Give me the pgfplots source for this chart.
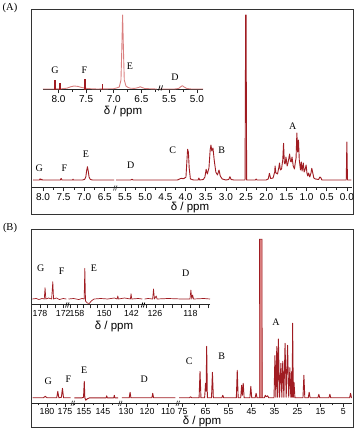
\documentclass[border=0pt]{standalone}
\usepackage{pgfplots}
\pgfplotsset{compat=1.18}
\usepackage{fontspec}
\setmainfont{Liberation Serif}
\setsansfont{Liberation Sans}
\definecolor{specred}{RGB}{160,28,34}
\definecolor{speclight}{RGB}{218,128,128}
\newcommand{\tlA}{\sffamily\fontsize{10}{11}\selectfont}
\newcommand{\tlB}{\sffamily\fontsize{8.8}{10}\selectfont}
\newcommand{\pk}{\fontsize{10}{12}\selectfont}

\pgfplotsset{
  nmr/.style={
    scale only axis, anchor=south west,
    axis x line=bottom, axis y line=none,
    x axis line style={-, line width=1pt, black!85},
    x dir=reverse, ymin=0, enlargelimits=false,
    tick align=outside, major tick length=3.5pt, minor tick length=2pt,
    tick style={black!85, line width=0.7pt},
    xticklabel style={font=\tlA, inner sep=1.5pt},
    clip=false,
  },
  spec/.style={specred, line width=0.9pt, no marks, sharp plot, line join=round},
  light/.style={speclight, line width=0.9pt, no marks, sharp plot, line join=round},
}

\begin{document}
\begin{tikzpicture}[x=1pt,y=1pt]
\path[use as bounding box] (0,0) rectangle (356,431);

% frames
\draw[line width=1pt, black!80] (31,421) rectangle (353,216);
\draw[line width=1pt, black!80] (31,201) rectangle (353,3);
\node[font=\fontsize{10.5}{12}\selectfont] at (10,423.5) {(A)};
\node[font=\fontsize{10.5}{12}\selectfont] at (10,203.5) {(B)};

%% ---------- (A) main 1H spectrum ----------
\begin{axis}[nmr, at={(32.3pt,243pt)}, width=82.7pt, height=176pt,
  xmin=6.25, xmax=8.26, ymax=176,
  xtick={8,7.5,7,6.5}, xticklabels={8.0,7.5,7.0,6.5},
  minor xtick={7.75,7.25,6.75}]
\addplot[spec] coordinates {
 (8.24,8)(8.09,8)(8.07,9.2)(8.05,8)(8.03,8.8)(8.01,8)(7.58,8)(7.56,9.6)(7.54,8)
 (7.28,8)(7.27,8.8)(7.26,8)(7.04,8)(6.99,8.6)(6.96,11)(6.94,17)(6.92,21.3)
 (6.90,17)(6.88,11)(6.85,8.6)(6.80,8)(6.27,8)};
\end{axis}
\begin{axis}[nmr, at={(115pt,243pt)}, width=236.7pt, height=176pt,
  xmin=-0.12, xmax=5.75, ymax=176,
  xtick={5.5,5,4.5,4,3.5,3,2.5,2,1.5,1,0.5,0},
  xticklabels={5.5,5.0,4.5,4.0,3.5,3.0,2.5,2.0,1.5,1.0,0.5,0.0},
  minor xtick={5.25,4.75,4.25,3.75,3.25,2.75,2.25,1.75,1.25,0.75,0.25}]
\addplot[spec] coordinates {
 (5.72,8)(5.36,8)(5.33,8.7)(5.30,8)(4.20,8)(4.14,9.2)(4.10,9.8)(4.06,9.2)(4.02,10)
 (3.99,11)(3.97,25)(3.95,38.7)(3.93,36)(3.91,20)(3.88,9)(3.80,8)(3.69,8)(3.67,10)
 (3.65,8)(3.56,8.5)(3.52,11)(3.49,18.7)(3.46,14)(3.42,20)(3.39,38)(3.37,43)(3.35,37)
 (3.32,40)(3.29,28)(3.25,16)(3.21,13)(3.17,18)(3.14,12)(3.09,9)(3.00,8)(2.93,8.5)
 (2.90,11.3)(2.87,8.5)(2.80,8)(2.525,8)(2.51,173)(2.50,173)(2.485,8)(2.27,8)(2.25,9)
 (2.23,8)(2.00,8)(1.95,9)(1.92,14.7)(1.89,9.5)(1.83,10)(1.79,16)(1.78,22)(1.76,15)
 (1.72,14)(1.69,20)(1.67,25)(1.65,18)(1.62,19)(1.59,28)(1.57,44.7)(1.55,25)(1.53,24)
 (1.51,31)(1.48,22)(1.46,25)(1.42,34)(1.40,27)(1.38,26)(1.36,31)(1.33,22)(1.30,19)
 (1.28,25)(1.26,30)(1.24,55)(1.22,36)(1.20,48)(1.18,28)(1.15,18)(1.13,26)(1.11,17)
 (1.08,25)(1.06,16)(1.04,18)(1.01,23)(0.99,15)(0.97,12)(0.95,15)(0.92,11)(0.89,15)
 (0.87,19.7)(0.85,16)(0.82,10)(0.78,9)(0.70,8.5)(0.67,11)(0.65,10.5)(0.62,8)
 (0.015,8)(0,46)(-0.015,8)(-0.11,8)};
\end{axis}
\draw[black!85, line width=0.6pt] (113.5,240.5) -- (115,245.5) (115.5,240.5) -- (117,245.5);
\node[font=\sffamily\fontsize{11.5}{13}\selectfont] at (190,223) {δ / ppm};
\node[font=\pk] at (39.3,262.7) {G};
\node[font=\pk] at (64.3,262.7) {F};
\node[font=\pk] at (86,277) {E};
\node[font=\pk] at (130.7,266) {D};
\node[font=\pk] at (172.7,281) {C};
\node[font=\pk] at (221.7,281) {B};
\node[font=\pk] at (292.7,305) {A};

%% ---------- (A) inset ----------
\begin{axis}[nmr, at={(43pt,341pt)}, width=115pt, height=78pt,
  xmin=6.2, xmax=8.28, ymax=78,
  xtick={8,7.5,7,6.5}, xticklabels={8.0,7.5,7.0,6.5},
  minor xtick={7.75,7.25,6.75,6.25}]
\addplot[light] coordinates {
 (8.28,1)(8.10,1)(7.95,1.2)(7.85,1.8)(7.78,3.2)(7.72,4)(7.65,3.6)(7.58,2.5)(7.50,1.6)
 (7.40,1.2)(7.30,1)(7.00,1.3)(6.95,2)(6.90,3)(6.87,10)(6.855,40)(6.84,75)(6.825,40)
 (6.81,10)(6.78,4)(6.74,2.5)(6.70,1.8)(6.62,1.6)(6.55,2.5)(6.52,3.3)(6.49,2.5)
 (6.44,1.5)(6.30,1.1)(6.22,1)};
\addplot[ycomb, specred, line width=1.3pt, no marks] coordinates {
 (8.063,10)(7.97,6.7)(7.52,11)(7.20,6)};
\end{axis}
\begin{axis}[nmr, at={(158pt,341pt)}, width=45pt, height=78pt,
  xmin=4.89, xmax=5.7, ymax=78,
  xtick={5.5,5}, xticklabels={5.5,5.0}, minor xtick={5.25}]
\addplot[light] coordinates {
 (5.68,1)(5.40,1)(5.33,1.5)(5.29,3.3)(5.26,4.3)(5.23,3)(5.18,1.5)(5.10,1)(4.89,1)};
\end{axis}
\draw[black, line width=0.7pt] (158.5,340.5) -- (160,345.5) (161,340.5) -- (162.5,345.5);
\node[font=\sffamily\fontsize{11.5}{13}\selectfont] at (123,319) {δ / ppm};
\node[font=\pk] at (55,360.3) {G};
\node[font=\pk] at (84.3,360.3) {F};
\node[font=\pk] at (130,364.3) {E};
\node[font=\pk] at (175,353.7) {D};

%% ---------- (B) main 13C spectrum ----------
\begin{axis}[nmr, at={(32.3pt,27.7pt)}, width=40.2pt, height=171pt,
  xmin=172.9, xmax=184.1, ymax=171, xticklabel style={font=\tlB},
  xtick={180,175}, xticklabels={180,175}, minor xtick={182.5,177.5}]
\addplot[spec] coordinates {
 (184.0,5.5)(181,5.5)(180.5,7)(180,5.5)(177.3,5.5)(177.0,12)(176.7,5.5)(176.0,6)
 (175.7,15)(175.4,5.5)(173.4,5.5)};
\end{axis}
\begin{axis}[nmr, at={(72.5pt,27.7pt)}, width=47.5pt, height=171pt,
  xmin=136, xmax=161, ymax=171, xticklabel style={font=\tlB},
  xtick={155,145}, xticklabels={155,145}, minor xtick={160,150,140}]
\addplot[spec] coordinates {
 (160,5.5)(156,5.5)(155.2,6)(154.8,22)(154.5,5.5)(154.0,3)(153.2,4.5)(152,5.5)
 (147,5.5)(143.3,5.5)(143,7.5)(142.7,5.5)(139.3,5.5)(139,8)(138.7,5.5)(137,5.5)};
\end{axis}
\begin{axis}[nmr, at={(120pt,27.7pt)}, width=57.5pt, height=171pt,
  xmin=105.5, xmax=132.9, ymax=171, xticklabel style={font=\tlB},
  xtick={130,120,110}, xticklabels={130,120,110}, minor xtick={125,115}]
\addplot[spec] coordinates {
 (132,5.5)(128.5,5.5)(128.1,11)(127.7,5.5)(117.7,5.5)(117.3,10)(116.9,5.5)(106.5,5.5)};
\end{axis}
\begin{axis}[nmr, at={(177.5pt,27.7pt)}, width=174.2pt, height=171pt,
  xmin=1.4, xmax=77.2, ymax=171, xticklabel style={font=\tlB},
  xtick={75,65,55,45,35,25,15,5}, xticklabels={75,65,55,45,35,25,15,5},
  minor xtick={70,60,50,40,30,20,10}]
\addplot[fill=speclight, draw=specred, line width=0.6pt] coordinates {
 (41.6,5.5)(41.5,164)(40.4,164)(40.3,5.5)};
\addplot[spec] coordinates {
 (76.5,5.5)(72,5.5)(71.5,6.5)(71,5.5)(67.8,5.5)(67.4,32)(67.0,5.5)(65.4,5.5)
 (65.0,20)(64.75,12)(64.5,57)(64.2,5.5)(62.4,5.5)(62.0,31)(61.6,5.5)(57.9,5.5)
 (57.5,8)(57.1,5.5)(51.6,5.5)(51.2,33)(50.8,5.5)(49.7,5.5)(49.3,18)(49.0,8)(48.6,20)
 (48.2,5.5)(45.7,5.5)(45.3,17)(44.9,5.5)(43.4,5.5)(43.0,10)(42.6,5.5)(41.6,5.5)
 (40.3,5.5)(39.4,5.5)(39.0,8)(38.6,6.5)(38.0,7.5)(37.5,5.5)(35.2,5.5)(34.8,47.7)
 (34.4,6)(34.0,56.7)(33.65,6)(33.3,64.3)(32.8,6)(32.2,40)(31.8,6)(31.4,42)(30.9,6)
 (30.4,60)(29.9,6)(29.3,58)(28.8,6)(28.3,35.7)(27.9,6)(27.5,32)(27.3,6)(27.1,80)
 (26.8,6)(26.5,21)(26.1,5.5)(22.6,5.5)(22.2,28)(21.8,5.5)(20.3,5.5)(19.9,11)(19.5,5.5)
 (16.1,5.5)(15.7,9)(15.3,5.5)(11.3,5.5)(10.9,9)(10.5,5.5)(2.3,5.5)(1.9,10)(1.5,5.5)(1.4,5.5)};
\end{axis}
\foreach \bx in {72.5,120,177.5}
  \draw[black!85, line width=0.6pt] (\bx-1.5,25.2) -- (\bx,30.2) (\bx+0.5,25.2) -- (\bx+2,30.2);
\node[font=\sffamily\fontsize{11.5}{13}\selectfont] at (202,9.3) {δ / ppm};
\node[font=\pk] at (48.3,49.3) {G};
\node[font=\pk] at (68.3,51.7) {F};
\node[font=\pk] at (84.3,61) {E};
\node[font=\pk] at (144.3,51.7) {D};
\node[font=\pk] at (189.3,69.3) {C};
\node[font=\pk] at (221.7,75) {B};
\node[font=\pk] at (276,108.7) {A};

%% ---------- (B) inset ----------
\begin{axis}[nmr, at={(32.3pt,126pt)}, width=35.2pt, height=45pt,
  xmin=170.9, xmax=180, ymax=45, xticklabel style={font=\tlB},
  xtick={178,176,174,172}, xticklabels={178,,,172}]
\addplot[spec, line width=0.7pt] coordinates {
 (180,6)(179,6.5)(178.3,5.5)(177.5,6.5)(176.9,6)(176.7,17.3)(176.5,6)(175.8,7)(175,6)
 (174.7,23.3)(174.5,6)(173.8,7)(173,5.5)(172,6.5)(171.2,6)};
\end{axis}
\begin{axis}[nmr, at={(67.5pt,126pt)}, width=75.8pt, height=45pt,
  xmin=138.5, xmax=160.8, ymax=45, xticklabel style={font=\tlB},
  xtick={160,158,156,154,152,150,148,146,144,142,140},
  xticklabels={,158,,,,150,,,,142,}]
\addplot[spec, line width=0.7pt] coordinates {
 (160.5,6)(159,6.5)(157.5,5.5)(156.5,6.5)(155.9,6)(155.7,36.7)(155.5,4)(155,2)
 (154.4,1.5)(153.8,4)(153,6)(151,6.5)(149,6)(147,7)(146.2,6)(146,9)(145.8,6)(144,7)
 (142.3,6)(142.1,11.3)(141.9,6)(140,6.5)(138.8,6)};
\end{axis}
\begin{axis}[nmr, at={(143.3pt,126pt)}, width=66.7pt, height=45pt,
  xmin=113.6, xmax=128.6, ymax=45, xticklabel style={font=\tlB},
  xtick={128,126,124,122,120,118,116,114},
  xticklabels={,126,,,,118,,}]
\addplot[spec, line width=0.7pt] coordinates {
 (128.3,6)(127.5,6.5)(126.5,6)(126.3,16)(126.1,6)(125.7,9)(125.5,6)(123,6.5)(120,6)
 (118.1,6)(117.9,15)(117.7,6)(117.5,10)(117.3,6)(115,6.5)(113.6,6)};
\end{axis}
\foreach \bx in {67.5,143.3}
  \draw[black, line width=0.7pt] (\bx-2,123.5) -- (\bx-0.5,128.5) (\bx,123.5) -- (\bx+1.5,128.5);
\node[font=\sffamily\fontsize{11.5}{13}\selectfont] at (114,104.3) {δ / ppm};
\node[font=\pk] at (40.7,162.7) {G};
\node[font=\pk] at (61.7,160) {F};
\node[font=\pk] at (94,162.7) {E};
\node[font=\pk] at (185.7,157.7) {D};
\end{tikzpicture}
\end{document}
